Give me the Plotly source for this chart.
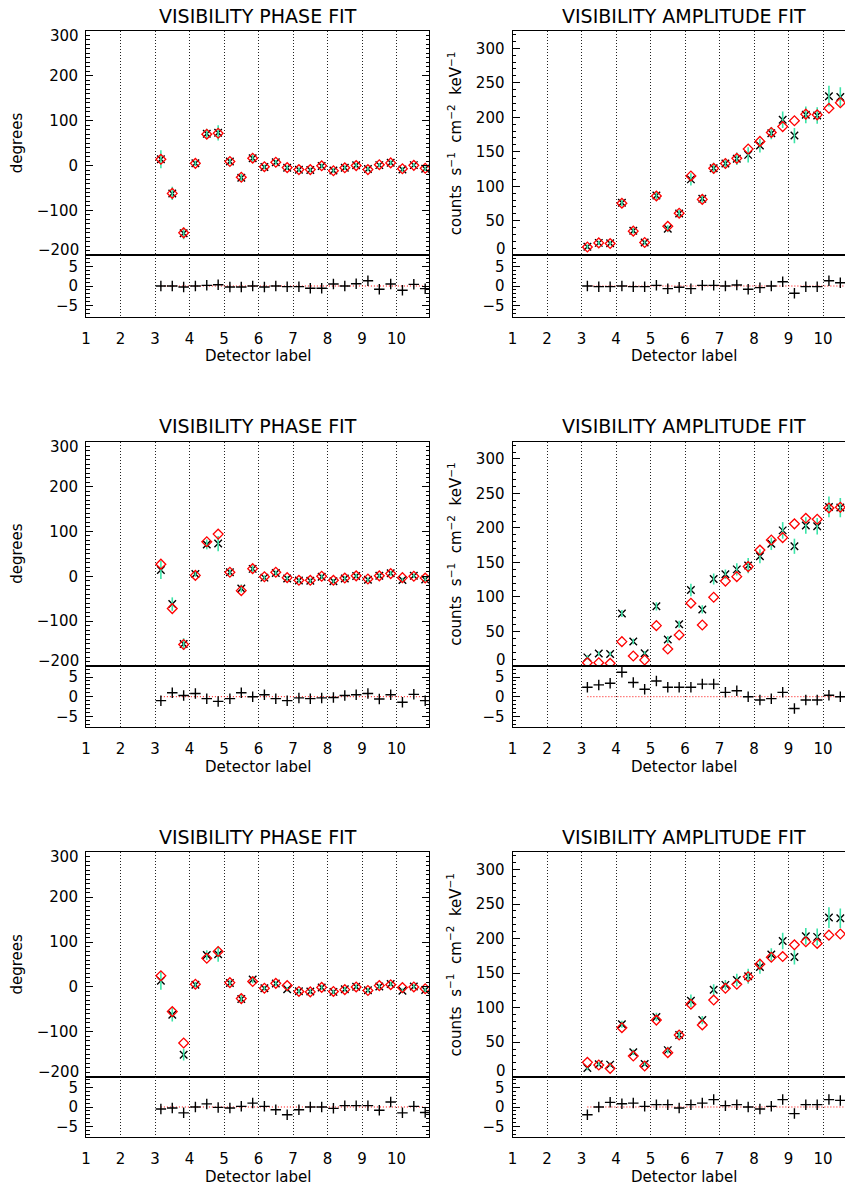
import plotly.graph_objects as go

W, H = 853, 1189
OFF = 8  # page body margin of the browser

# detector sub-positions (x values of the 24 visibilities)
x_pos = [3.17, 3.5, 3.83, 4.17, 4.5, 4.83, 5.17, 5.5, 5.83, 6.17, 6.5, 6.83,
         7.17, 7.5, 7.83, 8.17, 8.5, 8.83, 9.17, 9.5, 9.83, 10.17, 10.5, 10.83]
x_ticks = [1, 2, 3, 4, 5, 6, 7, 8, 9, 10]

# measured visibility phase (degrees) and error
phase_data = [14, -62, -151, 5, 71, 73, 9, -27, 16.5, -3, 7.5, -5,
              -9.5, -10, -1, -11, -5, 0.5, -7.5, 1, 6.5, -8.5, 1, -7]
phase_err = [20, 15, 13, 6, 11, 17, 6, 9, 8, 5, 5, 5,
             5, 5, 5, 5, 5, 5, 5, 5, 5, 5, 5, 5]
# model phases for the three fits
phase_model_1 = [14, -62, -150, 5, 70, 72, 9, -26, 16.5, -2.5, 7.5, -4.5,
                 -9, -9, -0.5, -11.5, -5, 0, -9, 2, 6, -7, 0.5, -6]
phase_model_2 = [27, -72, -152, 2, 77, 94, 9, -32, 17, -1, 9, -3,
                 -9, -9, 0, -9, -4, 1, -6, 1, 6, -3, 0, -4]
phase_model_3 = [25, -55, -125, 6, 64, 79, 9.6, -26, 12, -3, 8, 3,
                 -10, -11, -1, -10, -6, 0, -8, 3, 5, -1.5, 0, -4]
# normalised phase residuals
phase_resid_1 = [0, 0, -0.25, 0, 0.17, 0.33, -0.25, -0.25, 0, -0.25, 0, -0.17,
                 -0.17, -0.58, -0.58, 0.5, 0, 0.58, 1.33, -0.83, 0.5, -1.08, 0.42, -0.67]
phase_resid_2 = [-1, 1, 0.3, 0.8, -0.5, -1.2, -0.5, 1.0, 0, 0.5, -0.5, -1.0,
                 -0.3, -0.5, -0.3, -0.2, 0.3, 0.5, 0.8, -0.6, 0.5, -1.4, 0.6, -1.0]
phase_resid_3 = [-0.5, -0.25, -1.5, 0, 0.8, -0.1, -0.25, 0.17, 1.0, 0.17, -0.7, -2.0,
                 -0.7, 0, 0, -0.35, 0.35, 0.35, 0.35, -0.85, 1.3, -1.5, 0.17, -1.4]

# measured visibility amplitude and error
amp_data = [12.5, 18, 17.5, 76, 35.5, 18.5, 86.5, 38.5, 60.5, 110, 82, 126,
            133, 140, 145.5, 159, 177, 196.5, 173.5, 203.5, 202.5, 230.5, 229.5, 229]
amp_err = [3, 3, 3, 5, 4, 3, 6, 5, 5, 9, 6, 8,
           7, 9, 11, 10, 9, 12, 11, 12, 12, 15, 14, 14]
amp_model_1 = [12, 18, 17, 75.5, 35, 18.5, 86, 42, 61, 115, 81, 126,
               133, 140.5, 154, 165, 178, 186.5, 195, 204.5, 203.5, 213, 221, 216.5]
amp_model_2 = [4.8, 4.8, 3.9, 35.3, 14.5, 8.7, 58.5, 24.6, 45, 91, 59.4, 99.6,
               123, 129.5, 144, 168, 182.6, 186, 206, 214, 212.6, 229, 230, 228]
amp_model_3 = [20.8, 17, 12, 71, 30, 15.5, 82, 34.8, 60.4, 105, 75, 111,
               128, 133.8, 144.8, 163, 173, 174, 191, 195.5, 193, 205, 206.7, 205]
amp_resid_1 = [0, -0.17, -0.17, 0, -0.17, -0.17, 0.17, -0.67, -0.33, -0.67, 0.17, 0.17,
               0, 0.25, -0.83, -0.42, 0, 1.08, -1.83, -0.17, -0.17, 1.33, 0.83, 0.83]
amp_resid_2 = [2.4, 3.0, 3.4, 6.2, 3.6, 1.9, 4.0, 2.4, 2.4, 2.4, 3.2, 3.2,
               1.1, 1.5, 0, -0.85, -0.5, 1.1, -3.0, -0.85, -0.85, 0.35, 0, 0]
amp_resid_3 = [-2.0, 0, 1.2, 0.85, 1.0, 0.17, 0.6, 0.6, -0.25, 0.6, 1.0, 1.9,
               0.35, 0.6, 0, -0.5, 0.17, 1.9, -1.7, 0.6, 0.6, 1.9, 1.7, 1.7]

phase_ticks = [-200, -100, 0, 100, 200, 300]
phase_labels = ["", "\u2212100", "0", "100", "200", ""]
amp_ticks = [0, 50, 100, 150, 200, 250, 300]
amp_labels = ["", "50", "100", "150", "200", "250", "300"]
resid_ticks = [-5, 0, 5]
resid_labels = ["\u22125", "0", "5"]

FONT = "DejaVu Sans"
GREEN = "rgb(60,228,168)"
GRID_DASH = "1px,2px"
NB = "\u00a0"

# positions in screen pixels (window coordinates)
rows_top = [31.0, 441.7, 852.3]
rows_sep = [255.3, 666.0, 1076.7]
rows_bot = [316.7, 727.4, 1137.3]
cols_px = [(86.0, 429.0), (512.5, 855.5)]
x_range = [1, 10.94]


def fx(p):
    return (p - OFF) / W


def fy(p):
    return 1 - (p - OFF) / H


fig = go.Figure()
annotations = []

panels = [
    (phase_data, phase_err, phase_model_1, phase_resid_1, 0),
    (amp_data, amp_err, amp_model_1, amp_resid_1, 1),
    (phase_data, phase_err, phase_model_2, phase_resid_2, 0),
    (amp_data, amp_err, amp_model_2, amp_resid_2, 1),
    (phase_data, phase_err, phase_model_3, phase_resid_3, 0),
    (amp_data, amp_err, amp_model_3, amp_resid_3, 1),
]

tick_font = dict(family=FONT, size=15, color="black")

layout_axes = {}
for p, (data, err, model, resid, c) in enumerate(panels):
    r = p // 2
    m = 2 * p + 1
    s = 2 * p + 2
    xa_m, ya_m = f"x{m}", f"y{m}"
    xa_s, ya_s = f"x{s}", f"y{s}"
    x0, x1 = cols_px[c]
    xdom = [fx(x0), fx(x1)]
    is_phase = (c == 0)

    # main traces
    fig.add_trace(go.Scatter(
        x=x_pos, y=data, mode="markers", xaxis=xa_m, yaxis=ya_m,
        marker=dict(symbol="x-thin", size=7.5, color="black",
                    line=dict(width=1.4, color="black")),
        showlegend=False, hoverinfo="skip"))
    fig.add_trace(go.Scatter(
        x=x_pos, y=data, mode="markers", xaxis=xa_m, yaxis=ya_m,
        marker=dict(size=1, color="rgba(0,0,0,0)"),
        error_y=dict(type="data", array=err, color=GREEN, thickness=1.6, width=0),
        showlegend=False, hoverinfo="skip"))
    fig.add_trace(go.Scatter(
        x=x_pos, y=model, mode="markers", xaxis=xa_m, yaxis=ya_m,
        marker=dict(symbol="diamond-open", size=7.5, color="red",
                    line=dict(width=1.3, color="red")),
        showlegend=False, hoverinfo="skip"))
    # residual traces
    fig.add_trace(go.Scatter(
        x=[x_pos[0], x_pos[-1]], y=[0, 0], mode="lines", xaxis=xa_s, yaxis=ya_s,
        line=dict(color="red", width=1, dash=GRID_DASH),
        showlegend=False, hoverinfo="skip"))
    fig.add_trace(go.Scatter(
        x=x_pos, y=resid, mode="markers", xaxis=xa_s, yaxis=ya_s,
        marker=dict(symbol="cross-thin", size=7.5, color="black",
                    line=dict(width=1.4, color="black")),
        showlegend=False, hoverinfo="skip"))

    grid = dict(showgrid=True, gridcolor="#222222", gridwidth=1, griddash=GRID_DASH)
    mirror_y = "allticks"

    layout_axes[f"xaxis{m}"] = dict(
        domain=xdom, anchor=ya_m, range=x_range, tickvals=x_ticks,
        showticklabels=False, ticks="", showline=True, mirror=True,
        linecolor="black", linewidth=1, zeroline=False, **grid)
    layout_axes[f"yaxis{m}"] = dict(
        domain=[fy(rows_sep[r]), fy(rows_top[r])], anchor=xa_m,
        range=[-200, 300] if is_phase else [0, 325],
        tickvals=phase_ticks if is_phase else amp_ticks,
        ticktext=phase_labels if is_phase else amp_labels,
        ticks="inside", ticklen=7, tickcolor="black", tickwidth=1,
        showline=True, mirror=mirror_y, linecolor="black", linewidth=1,
        showgrid=False, zeroline=False, tickfont=tick_font,
        ticklabelstandoff=4,
        minor=dict(dtick=10, ticks="inside", ticklen=3.5, tickcolor="black",
                   showgrid=False))
    layout_axes[f"xaxis{s}"] = dict(
        domain=xdom, anchor=ya_s, range=x_range, tickvals=x_ticks,
        showticklabels=True, ticks="", showline=True, mirror=True,
        linecolor="black", linewidth=1, zeroline=False, tickfont=tick_font,
        ticklabelstandoff=8, **grid)
    layout_axes[f"yaxis{s}"] = dict(
        domain=[fy(rows_bot[r]), fy(rows_sep[r])], anchor=xa_s,
        range=[-7.8, 7.8], tickvals=resid_ticks, ticktext=resid_labels,
        ticks="inside", ticklen=7, tickcolor="black", tickwidth=1,
        showline=True, mirror=mirror_y, linecolor="black", linewidth=1,
        showgrid=False, zeroline=False, tickfont=tick_font,
        ticklabelstandoff=4,
        minor=dict(dtick=1, ticks="inside", ticklen=3.5, tickcolor="black",
                   showgrid=False))

    # edge tick labels, nudged inside the axis span as in the original
    if is_phase:
        edge = [(phase_ticks[0], "\u2212200", 5), (phase_ticks[-1], "300", -5)]
    else:
        edge = [(amp_ticks[0], "0", 6)]
    for val, txt, shift in edge:
        annotations.append(dict(
            text=txt, x=fx(x0 - 5), y=val, xref="paper", yref=ya_m,
            xanchor="right", yanchor="middle", yshift=shift, showarrow=False,
            font=tick_font))

    xc = (x0 + x1) / 2
    # titles
    title = "VISIBILITY PHASE FIT" if is_phase else "VISIBILITY AMPLITUDE FIT"
    annotations.append(dict(
        text=title, x=fx(xc), y=fy(rows_top[r] - 15.5), xref="paper", yref="paper",
        xanchor="center", yanchor="middle", showarrow=False,
        font=dict(family=FONT, size=19, color="black")))
    # y axis title
    ytxt = ("degrees" if is_phase else
            f"counts{NB} s<sup>\u22121</sup>{NB} cm<sup>\u22122</sup>{NB} keV<sup>\u22121</sup>")
    yx = 17 if is_phase else 455
    annotations.append(dict(
        text=ytxt, x=fx(yx), y=fy((rows_top[r] + rows_sep[r]) / 2),
        xref="paper", yref="paper", xanchor="center", yanchor="middle",
        textangle=-90, showarrow=False, font=tick_font))
    # x axis title
    annotations.append(dict(
        text="Detector label", x=fx(xc), y=fy(rows_bot[r] + 39.5),
        xref="paper", yref="paper", xanchor="center", yanchor="middle",
        showarrow=False, font=tick_font))

fig.update_layout(
    width=W, height=H,
    margin=dict(l=0, r=0, t=0, b=0, pad=0, autoexpand=False),
    paper_bgcolor="white", plot_bgcolor="white",
    showlegend=False, annotations=annotations, **layout_axes)

fig.write_html("out.html")
